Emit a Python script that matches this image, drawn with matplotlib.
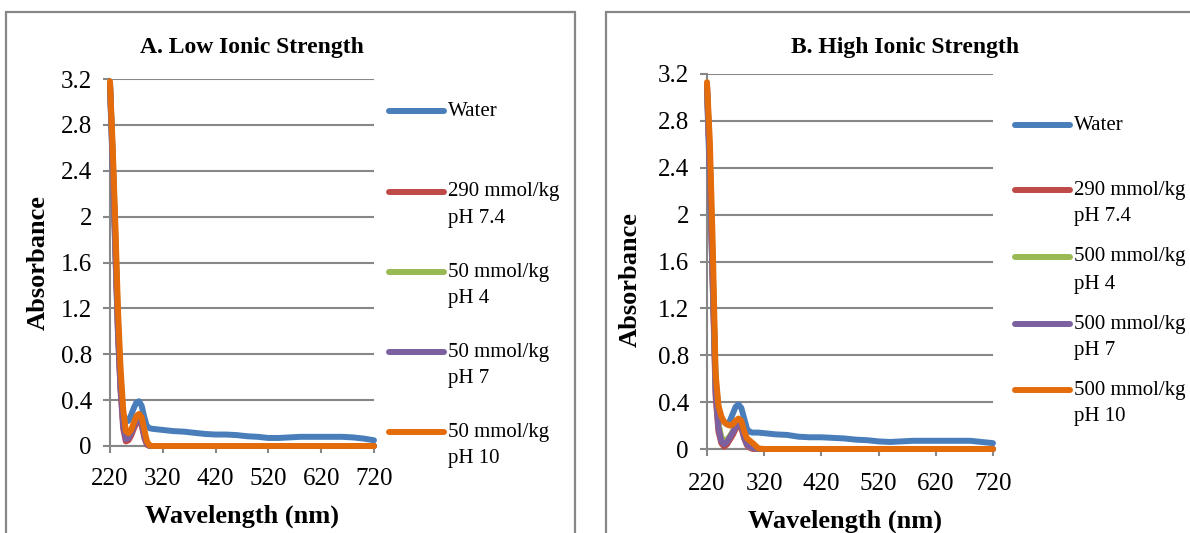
import matplotlib
matplotlib.use('Agg')
import matplotlib.pyplot as plt
from matplotlib.lines import Line2D
from matplotlib.patches import Rectangle

plt.rcParams['font.family'] = ['Liberation Serif', 'DejaVu Serif']

# ============================================================
# Data
# ============================================================
wl = [220, 225, 230, 235, 240, 245, 250, 255, 260, 265, 270, 275, 280, 285, 290, 295, 300,
      310, 320, 340, 360, 380, 400, 420, 440, 460, 480, 500, 520, 540, 560, 580, 600, 620,
      640, 660, 680, 700, 720]

zeros_tail = [0.0] * 22

# A. Low ionic strength
water_a = [3.12, 2.45, 1.70, 1.00, 0.50, 0.27, 0.21, 0.22, 0.27, 0.33, 0.38, 0.39, 0.35, 0.25, 0.17, 0.155, 0.15,
           0.145, 0.14, 0.13, 0.125, 0.115, 0.105, 0.10, 0.10, 0.095, 0.085, 0.08, 0.07, 0.07, 0.075, 0.08, 0.08,
           0.08, 0.08, 0.08, 0.075, 0.065, 0.05]
r290_a = [3.15, 2.50, 1.75, 1.00, 0.48, 0.15, 0.04, 0.05, 0.09, 0.15, 0.20, 0.22, 0.18, 0.07, 0.01, 0.0, 0.0] + zeros_tail
ph4_a = [3.16, 2.55, 1.85, 1.10, 0.60, 0.25, 0.10, 0.09, 0.13, 0.18, 0.24, 0.26, 0.22, 0.11, 0.03, 0.0, 0.0] + zeros_tail
ph7_a = [3.16, 2.52, 1.80, 1.05, 0.52, 0.18, 0.06, 0.07, 0.11, 0.17, 0.22, 0.24, 0.20, 0.09, 0.02, 0.0, 0.0] + zeros_tail
ph10_a = [3.18, 2.62, 1.95, 1.20, 0.68, 0.32, 0.13, 0.11, 0.14, 0.20, 0.26, 0.28, 0.25, 0.14, 0.04, 0.005, 0.0] + zeros_tail

# B. High ionic strength
water_b = [3.05, 2.30, 1.40, 0.60, 0.35, 0.26, 0.23, 0.21, 0.24, 0.30, 0.36, 0.38, 0.35, 0.26, 0.17, 0.145, 0.14,
           0.14, 0.135, 0.125, 0.12, 0.105, 0.10, 0.10, 0.095, 0.09, 0.08, 0.075, 0.065, 0.06, 0.065, 0.07, 0.07,
           0.07, 0.07, 0.07, 0.07, 0.06, 0.05]
r290_b = [3.08, 2.40, 1.40, 0.45, 0.15, 0.05, 0.02, 0.04, 0.08, 0.12, 0.17, 0.20, 0.18, 0.09, 0.03, 0.01, 0.0] + zeros_tail
ph4_b = [3.10, 2.50, 1.55, 0.55, 0.22, 0.10, 0.07, 0.08, 0.11, 0.15, 0.20, 0.23, 0.21, 0.12, 0.05, 0.02, 0.01] + zeros_tail
ph7_b = [3.10, 2.45, 1.50, 0.50, 0.18, 0.07, 0.04, 0.06, 0.10, 0.14, 0.19, 0.22, 0.20, 0.10, 0.04, 0.02, 0.01] + zeros_tail
ph10_b = [3.13, 2.62, 1.75, 0.65, 0.37, 0.28, 0.23, 0.21, 0.20, 0.21, 0.24, 0.26, 0.24, 0.15, 0.09, 0.07, 0.05,
          0.005] + [0.0] * 21

labels_a = ['Water', '290 mmol/kg\npH 7.4', '50 mmol/kg\npH 4', '50 mmol/kg\npH 7', '50 mmol/kg\npH 10']
labels_b = ['Water', '290 mmol/kg\npH 7.4', '500 mmol/kg\npH 4', '500 mmol/kg\npH 7', '500 mmol/kg\npH 10']
colors = ['#4A7EBB', '#BE4B48', '#98B954', '#7D60A0', '#E46C0A']

xticks = [220, 320, 420, 520, 620, 720]
yticks = [0, 0.4, 0.8, 1.2, 1.6, 2, 2.4, 2.8, 3.2]
ytick_labels = ['0', '0.4', '0.8', '1.2', '1.6', '2', '2.4', '2.8', '3.2']

# ============================================================
# Figure (pixel helpers)
# ============================================================
W, H = 1190, 533
fig = plt.figure(figsize=(W / 100, H / 100), dpi=100)
fig.patch.set_facecolor('white')

def fx(px):
    return px / W

def fy(py):
    return 1 - py / H

GRAY = '#878787'

def panel(box, axbox, title, title_xy, ylab_xy, xlab_xy, series, labels, leg_x, leg_ys, xpad):
    # outer chart border
    bx0, by0, bx1, by1 = box
    fig.add_artist(Rectangle((fx(bx0), fy(by1)), fx(bx1) - fx(bx0), fy(by0) - fy(by1),
                             transform=fig.transFigure, fill=False, ec=GRAY, lw=1.6))
    x0, x1, ytop, ybot = axbox
    ax = fig.add_axes([fx(x0), fy(ybot), fx(x1) - fx(x0), fy(ytop) - fy(ybot)])
    for i, (vals, c) in enumerate(zip(series, colors)):
        ax.plot(wl, vals, color=c, lw=4.3, solid_joinstyle='round', solid_capstyle='round',
                clip_on=False, zorder=3 + i)
    ax.set_xlim(220, 720)
    ax.set_ylim(0, 3.2)
    ax.set_xticks(xticks)
    ax.set_yticks(yticks)
    ax.set_yticklabels(ytick_labels)
    ax.yaxis.grid(True, color=GRAY, lw=1.5)
    ax.set_axisbelow(True)
    for s in ['top', 'right']:
        ax.spines[s].set_visible(False)
    for s in ['left', 'bottom']:
        ax.spines[s].set_color(GRAY)
        ax.spines[s].set_linewidth(1.5)
    ax.tick_params(direction='out', length=5, width=1.5, color=GRAY, labelsize=18)
    ax.tick_params(axis='y', pad=8)
    ax.tick_params(axis='x', pad=xpad)
    ax.set_facecolor('none')

    fig.text(fx(title_xy[0]), fy(title_xy[1]), title, ha='center', va='center',
             fontsize=17, fontweight='bold')
    fig.text(fx(ylab_xy[0]), fy(ylab_xy[1]), 'Absorbance', ha='center', va='center',
             rotation=90, fontsize=19, fontweight='bold')
    fig.text(fx(xlab_xy[0]), fy(xlab_xy[1]), 'Wavelength (nm)', ha='center', va='center',
             fontsize=19, fontweight='bold')

    # legend (Excel style: handle aligned with first text line)
    for lab, c, ly in zip(labels, colors, leg_ys):
        fig.add_artist(Line2D([fx(leg_x), fx(leg_x + 55)], [fy(ly), fy(ly)],
                              transform=fig.transFigure, color=c, lw=4.3,
                              solid_capstyle='round'))
        for k, line in enumerate(lab.split('\n')):
            fig.text(fx(leg_x + 59), fy(ly + 27 * k), line, ha='left', va='center', fontsize=15)
    return ax

panel((6, 12, 575, 545), (110, 374, 79, 446), 'A. Low Ionic Strength', (252, 47), (38, 263), (242, 516),
      [water_a, r290_a, ph4_a, ph7_a, ph10_a], labels_a, 389, [111, 192, 272, 352, 432], 10.5)

panel((606, 12, 1200, 545), (707, 993, 74, 449), 'B. High Ionic Strength', (905, 47), (630, 280), (845, 521),
      [water_b, r290_b, ph4_b, ph7_b, ph10_b], labels_b, 1015, [125, 190, 257, 324, 390], 12.5)

fig.savefig('out.png', dpi=100)
